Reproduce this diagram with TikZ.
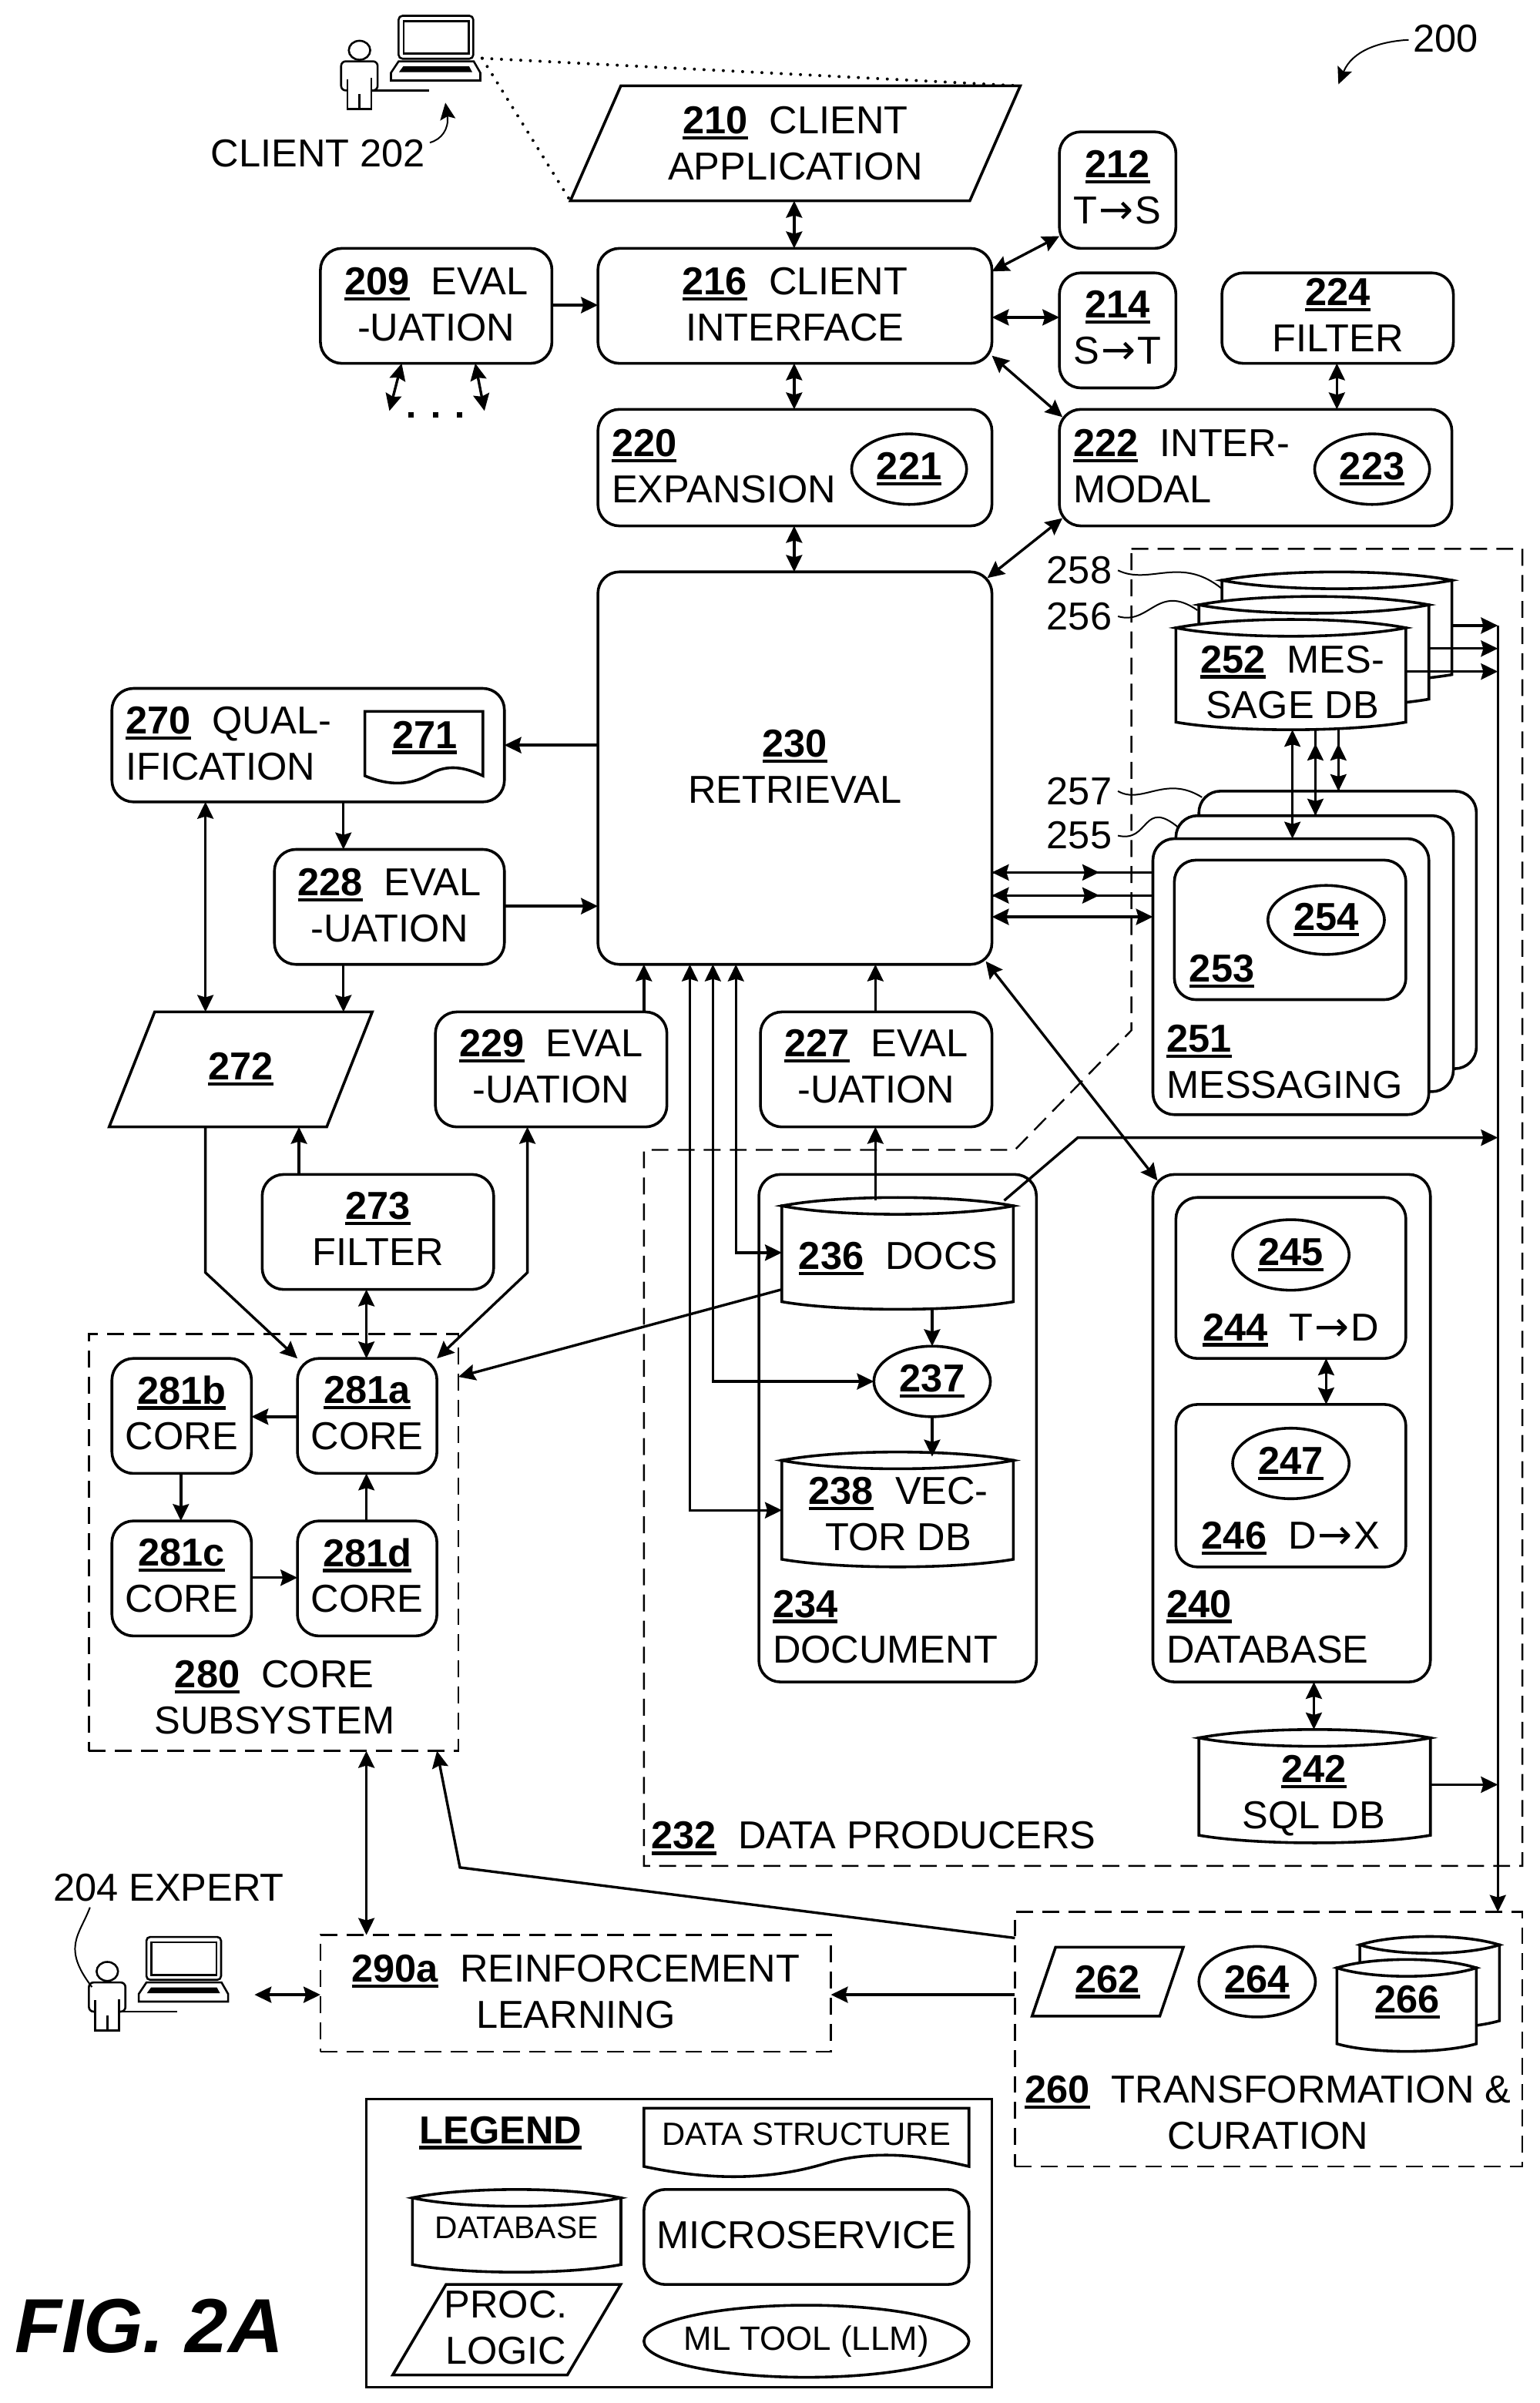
\documentclass[tikz,border=0pt]{standalone}
\usepackage{fontspec}
\setmainfont{Liberation Sans}
\newfontfamily\arrfont{DejaVu Sans}
\usetikzlibrary{arrows.meta,shapes.geometric}
\newcommand\un[1]{\setbox0=\hbox{\bfseries #1}\leavevmode\rlap{\rule[-3.8pt]{\wd0}{2.2pt}}\box0}
\newcommand\ra{\hspace{1pt}{\arrfont\fontsize{27}{30}\selectfont →}\hspace{1pt}}
\newcommand\bx[6]{\node[rbox,minimum width={#4-#2},minimum height={#5-#3}] (#1) at ({(#2+#4)/2},{(#3+#5)/2}) {#6};}
% box with its text as a node of its own, shifted by dy
\newcommand\bxo[7]{\node[rbox,minimum width={#4-#2},minimum height={#5-#3}] (#1) at ({(#2+#4)/2},{(#3+#5)/2}) {};
  \node (#1t) at ({(#2+#4)/2},{(#3+#5)/2+#6}) {#7};}
\newcommand\dbx[6]{\node[dbox,minimum width={#4-#2},minimum height={#5-#3}] (#1) at ({(#2+#4)/2},{(#3+#5)/2}) {#6};}
% name cx top w h
\newcommand\dbcyl[5]{%
  \node[minimum width={#4},minimum height={#5}] (#1) at ({#2},{#3+#5/2}) {};
  \filldraw[cyl] ({#2-#4/2},{#3+5.5}) -- ({#2-#4/2},{#3+#5-5})
    .. controls ({#2-#4/4},{#3+#5+1.6}) and ({#2+#4/4},{#3+#5+1.6}) .. ({#2+#4/2},{#3+#5-5})
    -- ({#2+#4/2},{#3+5.5}) -- cycle;
  \filldraw[cyl] ({#2-#4/2},{#3+5.5})
    .. controls ({#2-#4/4},{#3-1.8}) and ({#2+#4/4},{#3-1.8}) .. ({#2+#4/2},{#3+5.5})
    .. controls ({#2+#4/4},{#3+12.8}) and ({#2-#4/4},{#3+12.8}) .. cycle;}
% name l t r yb a
\newcommand\docsh[6]{%
  \coordinate (#1) at ({(#2+#4)/2},{#3});
  \filldraw[cyl] ({#2},{#3}) -- ({#4},{#3}) -- ({#4},{#5})
   .. controls ({#2+.85*(#4-#2)},{#5-1.1*#6}) and ({#2+.7*(#4-#2)},{#5-1.6*#6}) .. ({#2+.55*(#4-#2)},{#5-.2*#6})
   .. controls ({#2+.38*(#4-#2)},{#5+1.3*#6}) and ({#2+.2*(#4-#2)},{#5+1.3*#6}) .. ({#2},{#5}) -- cycle;}
\newcommand\userfig{%
  \draw[fig] (234.5,32.8) ellipse [x radius=7,y radius=6.2];
  \draw[fig,rounded corners=3pt] (226.7,59) -- (222.5,59) -- (222.5,40) -- (246.3,40) -- (246.3,59) -- (242.2,59);
  \draw[fig] (226.7,51.7) -- (226.7,71.2) -- (242.2,71.2) -- (242.2,50.8);
  \draw[fig] (234.5,61.3) -- (234.5,71.2);
  \draw[fig] (242.2,59) -- (280,59);
  \draw[fig,rounded corners=2.5pt] (260,10.3) rectangle (308.7,38.3);
  \draw[fig] (263.3,13.7) rectangle (305.8,35);
  \draw[fig] (260,40) -- (309,40) -- (313.3,47.5) -- (313.3,52.5) -- (255,52.5) -- (255,47.5) -- cycle;
  \fill (263,43.3) -- (306,43.3) -- (308,47) -- (260.3,47) -- cycle;}
\tikzset{
  every node/.style={font=\fontsize{25.4}{30}\selectfont,inner sep=0pt,outer sep=0pt,align=center},
  rbox/.style={draw,line width=1.8pt,rounded corners=14pt,fill=white},
  dbox/.style={draw,line width=1.2pt,dash pattern=on 11pt off 6pt},
  ell/.style={draw,ellipse,line width=1.8pt,fill=white},
  plg/.style={draw,trapezium,trapezium stretches=true,line width=1.8pt,fill=white},
  cyl/.style={draw,line width=1.8pt,fill=white},
  fig/.style={line width=1.3pt},
  ln/.style={line width=1.7pt},
  ar/.style={line width=1.7pt,-{Stealth[length=11pt,width=10.5pt,inset=1.5pt]}},
  dar/.style={line width=1.7pt,{Stealth[length=11pt,width=10.5pt,inset=1.5pt]}-{Stealth[length=11pt,width=10.5pt,inset=1.5pt]}},
  thin leader/.style={line width=1pt},
  dotl/.style={line width=2pt,line cap=round,dash pattern=on 0pt off 6.3pt},
  dsh/.style={line width=1.2pt,dash pattern=on 11pt off 6pt}
}
\begin{document}
\begin{tikzpicture}[x=1pt,y=-1pt]
\useasboundingbox (0,0) rectangle (1004,1567.3);

% client figure
\userfig
\begin{scope}[shift={(-164.5,1253)}]\userfig\end{scope}
\coordinate (lap) at (314.5,38);

% dashed regions
\draw[dsh] (738,358) -- (993,358) -- (993,1217) -- (420,1217) -- (420,750) -- (662,750) -- (738,672) -- cycle;
\dbx{n280}{58}{870}{299}{1142}{}
\dbx{n290}{209}{1262}{542}{1338}{}
\node (n290t) at (375.5,1299) {\un{290a}\ \ REINFORCEMENT\\LEARNING};
\dbx{n260}{662}{1247}{993}{1413}{}

% top
\node[plg,trapezium left angle=63.4,trapezium right angle=116.6,minimum width=294.5,minimum height=75] (n210) at (518.75,93.5) {\un{210}\ \ CLIENT\\APPLICATION};
\bxo{n209}{209}{162}{360}{237}{-1}{\un{209}\ \ EVAL\\-UATION}
\bxo{n216}{390}{162}{647}{237}{-1}{\un{216}\ \ CLIENT\\INTERFACE}
\bxo{n212}{691}{86}{767}{162}{-2}{\un{212}\\T\ra S}
\bxo{n214}{691}{178}{767}{253}{-2}{\un{214}\\S\ra T}
\bxo{n224}{797}{178}{948}{237}{-2}{\un{224}\\FILTER}
\bx{n220}{390}{267}{647}{343}{}
\node[anchor=west,align=left] (t220) at (399,304) {\un{220}\\EXPANSION};
\node[ell,minimum width=75,minimum height=46] (n221) at (593,306) {\un{221}};
\bx{n222}{691}{267}{947}{343}{}
\node[anchor=west,align=left] (t222) at (700,304) {\un{222}\ \ INTER-\\MODAL};
\node[ell,minimum width=75,minimum height=46] (n223) at (895,306) {\un{223}};
\bxo{n230}{390}{373}{647}{629}{-1}{\un{230}\\RETRIEVAL}

% left column
\bx{n270}{73}{449}{329}{523}{}
\node[anchor=west,align=left] (t270) at (82,485) {\un{270}\ \ QUAL-\\IFICATION};
\docsh{n271}{238}{464}{315}{506}{5}
\node (t271) at (277,481) {\un{271}};
\bxo{n228}{179}{554}{329}{629}{-1}{\un{228}\ \ EVAL\\-UATION}
\node[plg,trapezium left angle=62.5,trapezium right angle=117.5,minimum width=172,minimum height=75] (n272) at (157,697.5) {\un{272}};
\bxo{n229}{284}{660}{435}{735}{-2}{\un{229}\ \ EVAL\\-UATION}
\bxo{n227}{496}{660}{647}{735}{-2}{\un{227}\ \ EVAL\\-UATION}
\bxo{n273}{171}{766}{322}{841}{-2}{\un{273}\\FILTER}

% cores
\bxo{n281a}{194}{886}{285}{961}{-2}{\un{281a}\\CORE}
\bxo{n281b}{73}{886}{164}{961}{-2}{\un{281b}\\CORE}
\bxo{n281c}{73}{992}{164}{1067}{-2}{\un{281c}\\CORE}
\bxo{n281d}{194}{992}{285}{1067}{-2}{\un{281d}\\CORE}
\node (t280) at (179,1107) {\un{280}\ \ CORE\\SUBSYSTEM};

% message DB stack
\dbcyl{n258}{872}{373}{150}{72}
\dbcyl{n256}{857}{389}{150}{72}
\dbcyl{n252}{842}{404}{150}{72}
\node (t252) at (843,445) {\un{252}\ \ MES-\\SAGE DB};
\node (t258) at (704,372) {258};
\node (t256) at (704,402) {256};
\node (t257) at (704,516) {257};
\node (t255) at (704,545) {255};

% messaging stack
\bx{n257}{782}{516}{963}{697}{}
\bx{n255}{767}{532}{948}{712}{}
\bx{n251}{752}{547}{932}{727}{}
\bx{n253}{766}{561}{917}{652}{}
\node[ell,minimum width=76,minimum height=45] (n254) at (865,600) {\un{254}};
\node (t253) at (797,633.5) {\un{253}};
\node[anchor=west,align=left] (t251) at (761,692.5) {\un{251}\\MESSAGING};

\draw[thin leader] (t258.east) ++(4,0) .. controls (750,382) and (770,362) .. (797,384);
\draw[thin leader] (t256.east) ++(4,0) .. controls (750,408) and (755,380) .. (781,398);
\draw[thin leader] (t257.east) ++(4,0) .. controls (745,525) and (760,505) .. (784,520);
\draw[thin leader] (t255.east) ++(4,0) .. controls (750,550) and (745,520) .. (769,540);

% document
\bx{n234}{495}{766}{676}{1097}{}
\dbcyl{n236}{585.5}{781}{151}{73}
\node (t236) at (586,821) {\un{236}\ \ DOCS};
\node[ell,minimum width=76,minimum height=46] (n237) at (608,901) {\un{237}};
\dbcyl{n238}{585.5}{947}{151}{75}
\node (t238) at (586,987.5) {\un{238}\ \ VEC-\\TOR DB};
\node[anchor=west,align=left] (t234) at (504,1061) {\un{234}\\DOCUMENT};

% database
\bx{n240}{752}{766}{933}{1097}{}
\bx{n244}{767}{781}{917}{886}{}
\node[ell,minimum width=76,minimum height=46] (n245) at (842,818.5) {\un{245}};
\node (t244) at (842,867.5) {\un{244}\ \ T\ra D};
\bx{n246}{767}{916}{917}{1022}{}
\node[ell,minimum width=76,minimum height=46] (n247) at (842,954.5) {\un{247}};
\node (t246) at (842,1003.5) {\un{246}\ \ D\ra X};
\node[anchor=west,align=left] (t240) at (761,1061) {\un{240}\\DATABASE};
\dbcyl{n242}{857.5}{1128}{151}{74}
\node (t242) at (857,1171) {\un{242}\\SQL DB};
\node[anchor=west] (t232) at (425,1199) {\un{232}\ \ DATA PRODUCERS};

% 260
\node[plg,trapezium left angle=66,trapezium right angle=114,minimum width=99,minimum height=45] (n262) at (722.5,1292.5) {\un{262}};
\node[ell,minimum width=76,minimum height=46] (n264) at (820,1292.5) {\un{264}};
\dbcyl{n266b}{932.5}{1263}{91}{60}
\dbcyl{n266}{917.5}{1278}{91}{60}
\node (t266) at (918,1306) {\un{266}};
\node (t260) at (827,1378) {\un{260}\ \ TRANSFORMATION \&\\CURATION};

% connectors
\draw[dar] (518,0 |- n210.south) -- (518,0 |- n216.north);
\draw[dar] (518,0 |- n216.south) -- (518,0 |- n220.north);
\draw[dar] (518,0 |- n220.south) -- (518,0 |- n230.north);
\draw[ar] (n209.east |- 0,199) -- (n216.west |- 0,199);
\draw[dar] (n216.east |- 0,177) -- (n212.west |- 0,154);
\draw[dar] (n216.east |- 0,207) -- (n214.west |- 0,207);
\draw[dar] (n216.east |- 0,232) -- (693,272);
\draw[dar] (872,0 |- n224.south) -- (872,0 |- n222.north);
\draw[dar] (693,338) -- (644,377);
\coordinate (e1) at (254,268);
\coordinate (e2) at (316,268);
\draw[dar] (262,0 |- n209.south) -- (e1);
\draw[dar] (310,0 |- n209.south) -- (e2);
\fill (266.5,269) rectangle (270,272.5);
\fill (282.5,269) rectangle (286,272.5);
\fill (298,269) rectangle (301.5,272.5);

\draw[dotl] (lap) -- (n210.top right corner);
\draw[dotl] (lap) -- (n210.bottom left corner);

% client / 200 leaders
\node (t202) at (207.5,100) {CLIENT 202};
\coordinate (c202) at (290.5,67);
\draw[thin leader,-{Stealth[length=11pt,width=10pt,inset=2pt]}] (t202.east) ++(3,-7) .. controls (288,91) and (293,84) .. (c202);
\node (t200) at (943,25) {200};
\coordinate (c200) at (873,55);
\draw[thin leader,-{Stealth[length=11pt,width=10pt,inset=2pt]}] (t200.west) ++(-3,1) .. controls (900,27) and (882,33) .. (c200);

% left connectors
\draw[ar] (n230.west |- 0,486) -- (n270.east |- 0,486);
\draw[ar] (n228.east |- 0,591) -- (n230.west |- 0,591);
\draw[dar] (134,0 |- n270.south) -- (134,0 |- n272.north);
\draw[ar] (224,0 |- n270.south) -- (224,0 |- n228.north);
\draw[ar] (224,0 |- n228.south) -- (224,0 |- n272.north);
\draw[ar] (420,0 |- n229.north) -- (420,0 |- n230.south);
\draw[ar] (571,0 |- n227.north) -- (571,0 |- n230.south);
\draw[ar] (571,783) -- (571,0 |- n227.south);
\draw[ar] (195,0 |- n273.north) -- (195,0 |- n272.south);
\draw[ar] (134,0 |- n272.south) -- (134,830) -- (n281a.north west);
\draw[dar] (344,0 |- n229.south) -- (344,830) -- (n281a.north east);
\draw[dar] (239,0 |- n273.south) -- (239,0 |- n281a.north);
\draw[ar] (n281a.west |- 0,924) -- (n281b.east |- 0,924);
\draw[ar] (118,0 |- n281b.south) -- (118,0 |- n281c.north);
\draw[ar] (n281c.east |- 0,1029) -- (n281d.west |- 0,1029);
\draw[ar] (239,0 |- n281d.north) -- (239,0 |- n281a.south);

% messaging connectors
\draw[dar] (843,0 |- n252.south) -- (843,0 |- n251.north);
\draw[ln] (858,0 |- n252.south) -- (858,0 |- n255.north);
\draw[dar,shorten <=9pt] (858,0 |- n252.south) -- (858,0 |- n255.north);
\draw[ln] (873,0 |- n252.south) -- (873,0 |- n257.north);
\draw[dar,shorten <=9pt] (873,0 |- n252.south) -- (873,0 |- n257.north);
\draw[ln] (n251.west |- 0,569) -- (n230.east |- 0,569);
\draw[dar,shorten >=35pt] (n230.east |- 0,569) -- (n251.west |- 0,569);
\draw[ln] (n251.west |- 0,584) -- (n230.east |- 0,584);
\draw[dar,shorten >=35pt] (n230.east |- 0,584) -- (n251.west |- 0,584);
\draw[dar] (n230.east |- 0,598) -- (n251.west |- 0,598);

% right bus
\coordinate (busTop) at (977,408);
\draw[ar] (busTop) -- (977,0 |- n260.north);
\draw[ar] (n258.east |- 0,408) -- (busTop);
\draw[ar] (n256.east |- 0,423) -- (977,423);
\draw[ar] (n252.east |- 0,438) -- (977,438);
\draw[ar] (655,783) -- (703,742) -- (977,742);
\draw[ar] (n242.east |- 0,1164) -- (977,1164);

% document connectors
\draw[dar] (480,0 |- n230.south) -- (480,817) -- (n236.west |- 0,817);
\draw[dar] (465,0 |- n230.south) -- (465,901) -- (n237.west);
\draw[dar] (450,0 |- n230.south) -- (450,985) -- (n238.west |- 0,985);
\draw[ar] (n236.west |- 0,841) -- (n280.east |- 0,898);
\draw[ar] (608,0 |- n236.south) -- (n237.north);
\draw[ar] (n237.south) -- (608,950);
\draw[dar] (643,627) -- (755,770);
\draw[dar] (865,0 |- n244.south) -- (865,0 |- n246.north);
\draw[dar] (857,0 |- n240.south) -- (857,0 |- n242.north);

% lower connectors
\draw[dar] (239,0 |- n280.south) -- (239,0 |- n290.north);
\draw[ar] (n260.west |- 0,1264) -- (300,1218) -- (285,0 |- n280.south);
\draw[ar] (n260.west |- 0,1301) -- (n290.east |- 0,1301);
\coordinate (expertL) at (166,1301);
\draw[dar] (expertL) -- (n290.west |- 0,1301);
\node (t204) at (110,1231) {204 EXPERT};
\draw[thin leader] (t204.south west) ++(24,4) .. controls (52,1262) and (40,1270) .. (60,1296);

% legend
\node[draw,line width=1.2pt,minimum width=408,minimum height=188] (nleg) at (443,1463) {};
\node (tleg) at (326.5,1391) {\bfseries\un{LEGEND}};
\docsh{ndoc}{420}{1375}{632}{1413}{7}
\node[font=\fontsize{21}{25}\selectfont] (tdoc) at (526,1392) {DATA STRUCTURE};
\dbcyl{ldb}{337}{1428}{136}{54}
\node[font=\fontsize{20.5}{25}\selectfont] (tldb) at (337,1453) {DATABASE};
\bxo{lms}{420}{1428}{632}{1490}{-1}{MICROSERVICE}
\node[plg,trapezium left angle=62,trapezium right angle=118,minimum width=149,minimum height=59] (lpl) at (330.5,1519.5) {\phantom{M}};
\node (tpl) at (330,1518) {PROC.\\LOGIC};
\node[ell,minimum width=212,minimum height=47] (lml) at (526,1527) {};
\node[font=\fontsize{22}{25}\selectfont] (tml) at (526,1527) {ML TOOL (LLM)};

\node[anchor=west,font=\fontsize{50}{55}\selectfont\bfseries\itshape] (fig) at (10,1517) {FIG. 2A};
\end{tikzpicture}
\end{document}
